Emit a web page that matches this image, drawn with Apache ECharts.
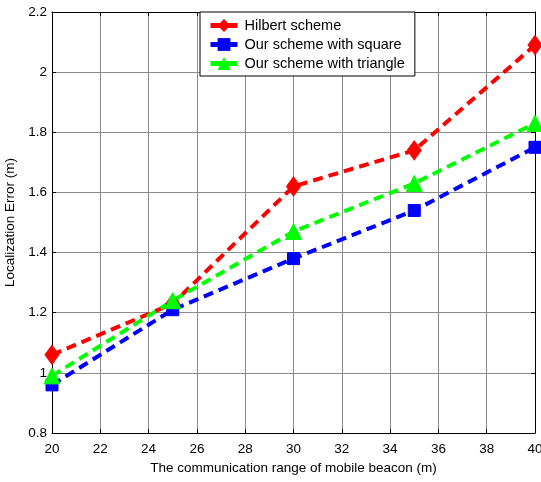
<!DOCTYPE html>
<html>
<head>
<meta charset="utf-8">
<script src="https://cdn.jsdelivr.net/npm/echarts@6/dist/echarts.min.js"></script>
<style>
  html, body { margin: 0; padding: 0; background: #fff; }
  #chart { width: 541px; height: 482px; }
</style>
</head>
<body>
<div id="chart"></div>
<script>
// Communication range of the mobile beacon (m)
const ranges = [20, 25, 30, 35, 40];
// Localization error (m) for each scheme
const hilbert = [1.06, 1.23, 1.62, 1.74, 2.09];
const square = [0.96, 1.21, 1.38, 1.54, 1.75];
const triangle = [0.99, 1.24, 1.47, 1.63, 1.83];
const seriesNames = ['Hilbert scheme', 'Our scheme with square', 'Our scheme with triangle'];

const font = 'Liberation Sans, Arial, sans-serif';
const pairs = xs => ranges.map((x, i) => [x, xs[i]]);

const chart = echarts.init(document.getElementById('chart'), null, { renderer: 'canvas' });

const gridLine = { show: true, lineStyle: { color: '#8c8c8c', width: 1 } };
const hiddenAxisCommon = {
  axisLine: { show: true, lineStyle: { color: '#000', width: 1 } },
  axisTick: { show: true, inside: true, length: 4, lineStyle: { color: '#000' } },
  axisLabel: { show: false },
  splitLine: { show: false }
};

function lineSeries(name, data, color, symbol, size) {
  return {
    name, type: 'line', data: pairs(data),
    symbol, symbolSize: size,
    lineStyle: { color, width: 4, type: [10, 6] },
    itemStyle: { color, borderColor: color },
    z: 3
  };
}

chart.setOption({
  animation: false,
  backgroundColor: '#fff',
  grid: { left: 52, right: 6, top: 12, bottom: 49, outerBoundsMode: 'none' },
  legend: {
    orient: 'vertical',
    left: 200, top: 12,
    data: seriesNames,
    backgroundColor: '#fff',
    borderColor: '#000', borderWidth: 1, borderRadius: 0,
    padding: [6, 10, 5, 8],
    itemGap: 4,
    itemWidth: 27, itemHeight: 16,
    lineStyle: { type: 'solid', width: 5 },
    textStyle: { fontFamily: font, fontSize: 14.5, color: '#000', padding: [0, 0, 0, 2] }
  },
  xAxis: [{
    type: 'value', min: 20, max: 40, interval: 2,
    name: 'The communication range of mobile beacon (m)',
    nameLocation: 'middle', nameGap: 27,
    nameTextStyle: { fontFamily: font, fontSize: 13.5, color: '#000' },
    axisLine: { show: true, onZero: false, lineStyle: { color: '#000' } },
    axisTick: { show: true, inside: true, length: 4, lineStyle: { color: '#000' } },
    axisLabel: { fontFamily: font, fontSize: 13.5, color: '#000', margin: 9 },
    splitLine: gridLine
  }, Object.assign({ type: 'value', min: 20, max: 40, interval: 2, position: 'top' }, hiddenAxisCommon)],
  yAxis: [{
    type: 'value', min: 0.8, max: 2.2, interval: 0.2,
    name: 'Localization Error (m)',
    nameLocation: 'middle', nameGap: 29,
    nameTextStyle: { fontFamily: font, fontSize: 13.5, color: '#000' },
    axisLine: { show: true, onZero: false, lineStyle: { color: '#000' } },
    axisTick: { show: true, inside: true, length: 4, lineStyle: { color: '#000' } },
    axisLabel: {
      fontFamily: font, fontSize: 13.5, color: '#000', margin: 5,
      formatter: v => String(parseFloat(v.toFixed(1)))
    },
    splitLine: gridLine
  }, Object.assign({ type: 'value', min: 0.8, max: 2.2, interval: 0.2, position: 'right' }, hiddenAxisCommon)],
  series: [
    lineSeries(seriesNames[0], hilbert, '#ff0000', 'diamond', [14, 19]),
    lineSeries(seriesNames[1], square, '#0000ff', 'rect', 12),
    lineSeries(seriesNames[2], triangle, '#00ff00', 'triangle', 16)
  ]
});
</script>
</body>
</html>
